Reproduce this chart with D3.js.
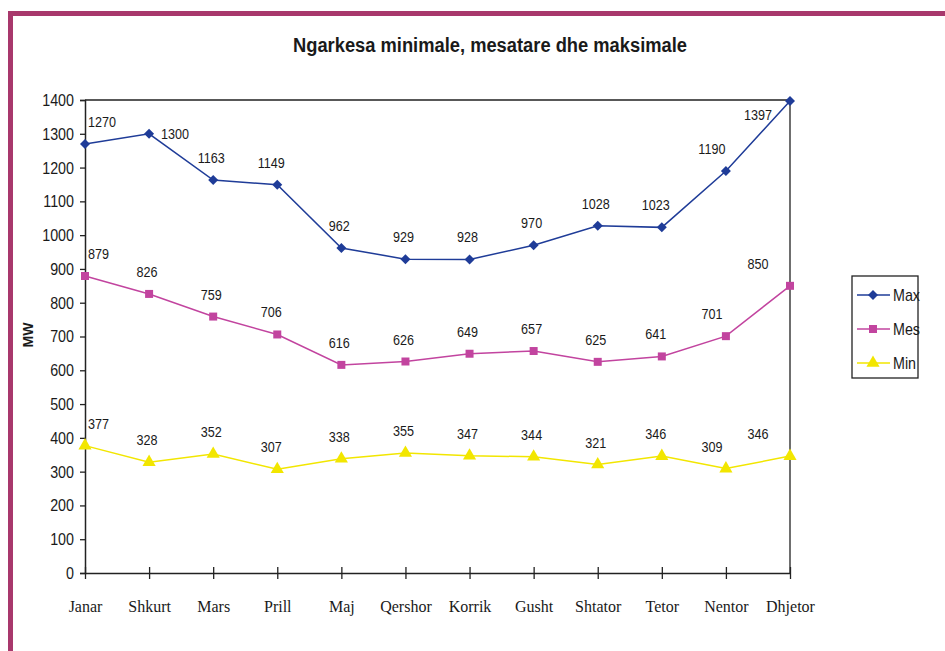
<!DOCTYPE html>
<html>
<head>
<meta charset="utf-8">
<script src="https://cdn.jsdelivr.net/npm/d3@7"></script>
<style>
  body { margin: 0; background: #fff; }
  text { fill: #1a1a1a; }
</style>
</head>
<body>
<div id="chart"></div>
<script>
var
    width = 945,
    height = 651;

var months = ["Janar", "Shkurt", "Mars", "Prill", "Maj", "Qershor", "Korrik", "Gusht", "Shtator", "Tetor", "Nentor", "Dhjetor"];
var maxValues = [1270, 1300, 1163, 1149, 962, 929, 928, 970, 1028, 1023, 1190, 1397];
var mesValues = [879, 826, 759, 706, 616, 626, 649, 657, 625, 641, 701, 850];
var minValues = [377, 328, 352, 307, 338, 355, 347, 344, 321, 346, 309, 346];
var yTicks = [0, 100, 200, 300, 400, 500, 600, 700, 800, 900, 1000, 1100, 1200, 1300, 1400];

var series = [
  {name: "Max", values: maxValues, color: "#1f3c98", symbol: d3.symbolSquare, size: 50, rot: 45},
  {name: "Mes", values: mesValues, color: "#c2449f", symbol: d3.symbolSquare, size: 64, rot: 0},
  {name: "Min", values: minValues, color: "#f2e600", symbol: d3.symbolTriangle, size: 75, rot: 0}
];

var sans = "'Liberation Sans', Arial, sans-serif";

// squeeze a text selection to look like Arial Narrow
function narrow(sel, k) {
  sel.each(function() {
    var w = this.getComputedTextLength();
    d3.select(this).attr("textLength", w * (k || 0.82)).attr("lengthAdjust", "spacingAndGlyphs");
  });
}

var svg = d3.select("#chart")
        .append("svg")
        .attr("width", width)
        .attr("height", height);

// magenta frame
svg.append("rect").attr("x", 8).attr("y", 11).attr("width", width).attr("height", 5).attr("fill", "#a8386c");
svg.append("rect").attr("x", 8).attr("y", 11).attr("width", 5).attr("height", height).attr("fill", "#a8386c");

var pLeft = 85, pRight = 790, pTop = 100, pBottom = 573;

var x = d3.scalePoint().domain(months).range([pLeft, pRight]);
var y = d3.scaleLinear().domain([0, 1400]).range([pBottom, pTop]);

svg.append("text")
    .attr("x", 490).attr("y", 52)
    .attr("text-anchor", "middle")
    .style("font-family", sans)
    .style("font-weight", "bold")
    .style("font-size", "20px")
    .text("Ngarkesa minimale, mesatare dhe maksimale")
    .attr("textLength", 394).attr("lengthAdjust", "spacingAndGlyphs");

// plot frame top/right
svg.append("path")
    .attr("d", "M" + pLeft + "," + pTop + "H" + pRight + "V" + pBottom)
    .attr("fill", "none").attr("stroke", "#222").attr("stroke-width", 1.3);

var yAxis = svg.append("g")
    .attr("transform", "translate(" + pLeft + ",0)")
    .call(d3.axisLeft(y).tickValues(yTicks).tickSize(5).tickPadding(6).tickFormat(d3.format("d")));
yAxis.select(".domain").attr("stroke", "#222").attr("stroke-width", 1.5);
yAxis.selectAll("line").attr("stroke", "#222").attr("stroke-width", 1.3);
yAxis.selectAll("text").style("font-family", sans).style("font-size", "17px").attr("fill", "#1a1a1a").call(narrow, 0.84);

var xAxis = svg.append("g")
    .attr("transform", "translate(0," + pBottom + ")")
    .call(d3.axisBottom(x).tickSize(6).tickSizeOuter(0).tickPadding(22));
xAxis.select(".domain").attr("stroke", "#222").attr("stroke-width", 1.5);
xAxis.selectAll("line").attr("y1", -6).attr("stroke", "#222").attr("stroke-width", 1.3);
xAxis.selectAll("text").style("font-family", "'Liberation Serif', serif").style("font-size", "16px").attr("fill", "#1a1a1a");

svg.append("text")
    .attr("transform", "translate(33,335) rotate(-90)")
    .attr("text-anchor", "middle")
    .style("font-family", sans)
    .style("font-weight", "bold")
    .style("font-size", "14px")
    .text("MW");

var line = d3.line()
    .x(function(d, i) { return x(months[i]); })
    .y(function(d) { return y(d); });

series.forEach(function(s, si) {
  var g = svg.append("g");
  g.append("path")
      .datum(s.values)
      .attr("d", line)
      .attr("fill", "none")
      .attr("stroke", s.color)
      .attr("stroke-width", 1.5);
  g.selectAll("path.m")
      .data(s.values)
    .enter().append("path")
      .attr("class", "m")
      .attr("transform", function(d, i) { return "translate(" + x(months[i]) + "," + y(d) + ") rotate(" + s.rot + ")"; })
      .attr("d", d3.symbol().type(s.symbol).size(s.size))
      .attr("fill", s.color);
  g.selectAll("text")
      .data(s.values)
    .enter().append("text")
      .attr("x", function(d, i) {
        var px = x(months[i]);
        if (i === 0) return px + 3;
        if (si === 0 && i === 1) return px + 12;
        if (i === 11) return px - 32;
        if (i === 10) return px - 14;
        if (i === 3 || i === 9) return px - 6;
        return px - 2;
      })
      .attr("y", function(d, i) {
        var py = y(d);
        if (si === 0 && i === 1) return py + 5;
        if (si === 0 && i === 11) return py + 19;
        return py - 17;
      })
      .attr("text-anchor", function(d, i) {
        if (i === 0 || (si === 0 && i === 1)) return "start";
        return "middle";
      })
      .style("font-family", sans)
      .style("font-size", "15px")
      .text(function(d) { return d; })
      .call(narrow, 0.84);
});

// legend
var lg = svg.append("g").attr("transform", "translate(852,276)");
lg.append("rect").attr("width", 66).attr("height", 102)
    .attr("fill", "#fff").attr("stroke", "#222").attr("stroke-width", 1.3);
series.forEach(function(s, i) {
  var yy = 19 + i * 34;
  lg.append("line").attr("x1", 5).attr("x2", 38).attr("y1", yy).attr("y2", yy)
      .attr("stroke", s.color).attr("stroke-width", 1.5);
  lg.append("path").attr("transform", "translate(21," + yy + ") rotate(" + s.rot + ")")
      .attr("d", d3.symbol().type(s.symbol).size(s.size)).attr("fill", s.color);
  lg.append("text").attr("x", 41).attr("y", yy + 6)
      .style("font-family", sans).style("font-size", "17px")
      .text(s.name)
      .call(narrow, 0.84);
});
</script>
</body>
</html>
